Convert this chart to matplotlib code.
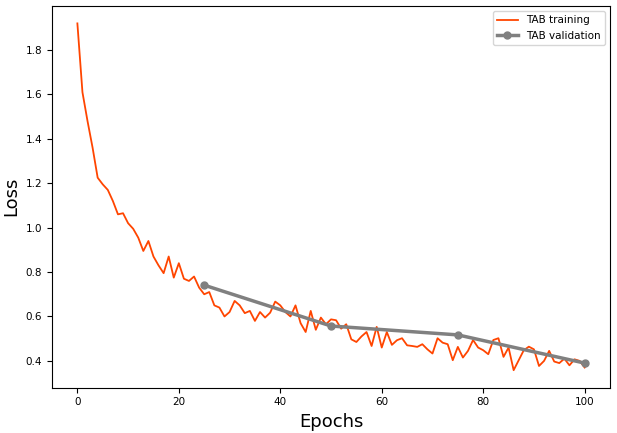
import matplotlib
matplotlib.use("Agg")
import matplotlib.pyplot as plt
import numpy as np

train_epochs = list(range(0, 101))
train_loss = [
    1.92, 1.61, 1.48, 1.36, 1.225, 1.195, 1.17, 1.12, 1.06, 1.065,
    1.02, 0.995, 0.955, 0.895, 0.94, 0.87, 0.83, 0.795, 0.87, 0.775,
    0.84, 0.77, 0.76, 0.78, 0.73, 0.70, 0.71, 0.65, 0.64, 0.60,
    0.62, 0.67, 0.65, 0.615, 0.625, 0.58, 0.62, 0.595, 0.617, 0.667,
    0.65, 0.62, 0.60, 0.65, 0.57, 0.53, 0.625, 0.54, 0.595, 0.565,
    0.587, 0.583, 0.545, 0.565, 0.497, 0.485, 0.51, 0.53, 0.467, 0.553,
    0.46, 0.53, 0.472, 0.493, 0.502, 0.47, 0.467, 0.463, 0.475, 0.452,
    0.433, 0.502, 0.482, 0.475, 0.403, 0.463, 0.415, 0.445, 0.494, 0.46,
    0.448, 0.43, 0.494, 0.502, 0.418, 0.46, 0.358, 0.403, 0.448, 0.464,
    0.452, 0.377, 0.40, 0.445, 0.397, 0.39, 0.41, 0.38, 0.407, 0.40,
    0.37,
]
val_epochs = [25, 50, 75, 100]
val_loss = [0.741, 0.557, 0.517, 0.39]

fig = plt.figure(figsize=(6.17, 4.33), dpi=100)
ax = fig.add_axes([0.0843, 0.105, 0.9044, 0.881])
ax.plot(train_epochs, train_loss, color="#FF4500", lw=1.3, label="TAB training")
ax.plot(val_epochs, val_loss, color="gray", lw=2.5, marker="o", markersize=5,
        label="TAB validation")
ax.set_xlabel("Epochs", fontsize=13)
ax.set_ylabel("Loss", fontsize=13)
ax.tick_params(labelsize=7.5)
ax.legend(loc="upper right", fontsize=7.5)
fig.savefig("out.png", dpi=100)
